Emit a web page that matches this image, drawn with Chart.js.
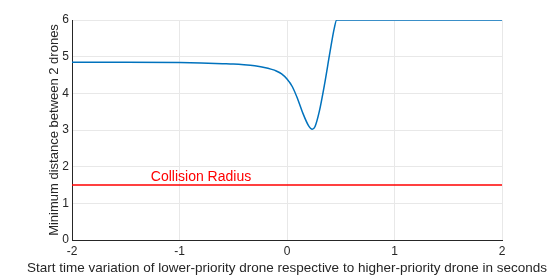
<!DOCTYPE html>
<html>
<head>
<meta charset="utf-8">
<script src="https://cdn.jsdelivr.net/npm/chart.js@4/dist/chart.umd.min.js"></script>
<style>
html,body{margin:0;padding:0;background:#fff;}
#wrap{width:555px;height:276px;}
</style>
</head>
<body>
<div id="wrap"><canvas id="c" width="555" height="276"></canvas></div>
<script>
// Data
const startTimes = [-2, -1.5, -1.0, -0.8, -0.6, -0.5, -0.4, -0.3, -0.2, -0.15, -0.1, -0.05, 0, 0.05, 0.1, 0.15, 0.2, 0.235, 0.26, 0.3, 0.35, 0.4, 0.44, 0.462, 0.5, 1, 1.5, 2];
const minDistance = [4.85, 4.85, 4.84, 4.83, 4.81, 4.80, 4.78, 4.75, 4.70, 4.66, 4.61, 4.53, 4.39, 4.18, 3.84, 3.44, 3.12, 3.02, 3.09, 3.50, 4.26, 5.13, 5.78, 6.0, 6.0, 6.0, 6.0, 6.0];
const collisionX = [-2, 2];
const collisionY = [1.5, 1.5];
const collisionLabel = "Collision Radius";
const collisionLabelX = -0.8;
const xTicks = [-2, -1, 0, 1, 2];
const yTicks = [0, 1, 2, 3, 4, 5, 6];
const xTitle = "Start time variation of lower-priority drone respective to higher-priority drone in seconds";
const yTitle = "Minimum distance between 2 drones";

const FONT = "'Liberation Sans', Arial, Helvetica, sans-serif";

const curve = startTimes.map((x, i) => ({x, y: minDistance[i]}));
const radius = collisionX.map((x, i) => ({x, y: collisionY[i]}));

const labelPlugin = {
  id: 'extraText',
  afterDatasetsDraw(chart) {
    const {ctx, scales, chartArea} = chart;
    const px = scales.x.getPixelForValue(collisionLabelX);
    const py = scales.y.getPixelForValue(collisionY[0]);
    ctx.save();
    ctx.font = "14px " + FONT;
    ctx.fillStyle = "#ff0000";
    ctx.textAlign = "center";
    ctx.textBaseline = "bottom";
    ctx.fillText(collisionLabel, px, py - 1);
    ctx.restore();
    // x-axis title, horizontally stretched like the reference
    ctx.save();
    ctx.font = "13px " + FONT;
    const w = ctx.measureText(xTitle).width;
    const target = 520;
    const cx = (chartArea.left + chartArea.right) / 2;
    ctx.translate(cx, scales.x.bottom - 8);
    ctx.scale(target / w, 1);
    ctx.fillStyle = "#262626";
    ctx.textAlign = "center";
    ctx.textBaseline = "middle";
    ctx.fillText(xTitle, 0, 0);
    ctx.restore();
  }
};

new Chart(document.getElementById('c'), {
  type: 'line',
  data: {
    datasets: [
      {data: curve, borderColor: '#0072BD', borderWidth: 1.5, pointRadius: 0, cubicInterpolationMode: 'monotone', fill: false},
      {data: radius, borderColor: '#ff0000', borderWidth: 1.5, pointRadius: 0, fill: false}
    ]
  },
  options: {
    responsive: false,
    animation: false,
    events: [],
    layout: {padding: {top: 20, right: 53, left: 0, bottom: 0}},
    plugins: {legend: {display: false}, tooltip: {enabled: false}},
    scales: {
      x: {
        type: 'linear', min: -2, max: 2,
        afterBuildTicks: s => { s.ticks = xTicks.map(v => ({value: v})); },
        afterFit: s => { s.height = 36; },
        grid: {color: '#e8e8e8', lineWidth: 1, drawTicks: false},
        border: {color: '#262626', width: 1},
        ticks: {color: '#262626', font: {family: FONT, size: 12}, padding: 4, maxRotation: 0},
        title: {display: false}
      },
      y: {
        type: 'linear', min: 0, max: 6,
        afterBuildTicks: s => { s.ticks = yTicks.map(v => ({value: v})); },
        afterFit: s => { s.width = 72; },
        grid: {color: '#e8e8e8', lineWidth: 1, drawTicks: false},
        border: {color: '#262626', width: 1},
        ticks: {color: '#262626', font: {family: FONT, size: 12}, padding: 3},
        title: {display: true, text: yTitle, color: '#262626', font: {family: FONT, size: 13}, padding: {top: 47, bottom: 0}}
      }
    }
  },
  plugins: [labelPlugin]
});
</script>
</body>
</html>
